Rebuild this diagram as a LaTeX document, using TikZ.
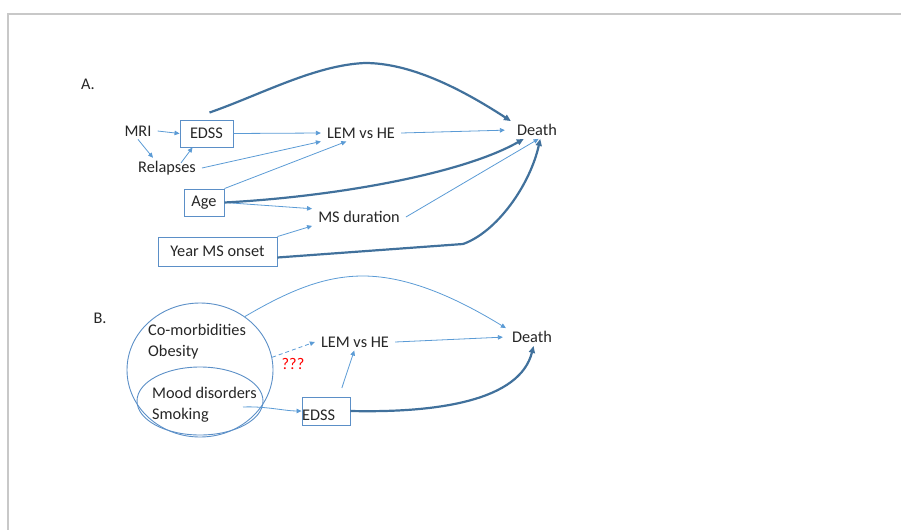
\documentclass[tikz,border=0pt]{standalone}
\usepackage{fontspec}
\setmainfont{Carlito}
\usetikzlibrary{arrows.meta, shapes.geometric}

\definecolor{fineblue}{HTML}{5B9BD5}
\definecolor{heavyblue}{HTML}{41719C}
\definecolor{edgeblue}{HTML}{5B8FC7}
\definecolor{txtgray}{HTML}{262626}
\definecolor{framegray}{HTML}{C8C8C8}

\tikzset{
  txt/.style={text=txtgray, inner xsep=6pt, inner ysep=3pt},
  box/.style={draw=edgeblue, line width=0.9pt, text=txtgray, inner sep=0pt},
  blob/.style={ellipse, draw=edgeblue, line width=0.9pt, inner sep=0pt},
  farrow/.style={fineblue, line width=0.8pt, -{Triangle[length=5pt, width=4.5pt]}},
  harrow/.style={heavyblue, line width=2.2pt, -{Triangle[length=7pt, width=6pt]}},
}

\begin{document}
\begin{tikzpicture}[x=1pt, y=-1pt, font=\fontsize{16.3}{21}\selectfont]
    \useasboundingbox (0, 0) rectangle (901, 530);
    \draw [framegray, line width=2pt] (901, 14) -- (8, 14) -- (8, 530);
    % A.
    \node [txt] (labA)  at (88, 84)  {A.};
    \node [txt] (mri)   at (138, 131) {MRI};
    \node [box, minimum width=53pt, minimum height=27pt] (edssA) at (206.5, 133.5) {EDSS};
    \node [txt] (rel)   at (167, 168) {Relapses};
    \node [txt] (lemA)  at (361, 133) {LEM vs HE};
    \node [txt] (deathA) at (537, 130) {Death};
    \node [box, minimum width=40pt, minimum height=27pt] (age) at (204, 202.5) {Age};
    \node [txt] (msdur) at (359, 217) {MS duration};
    \node [box, minimum width=119pt, minimum height=29pt] (year) at (217.5, 251.5) {Year MS onset};
    \draw [farrow] (mri.east) -- (edssA.west);
    \draw [farrow] (mri.south) -- (rel.144);
    \draw [farrow] ([xshift=14pt, yshift=-5pt]rel.north) -- (edssA.-135);
    \draw [farrow] (edssA.east) -- (lemA.west);
    \draw [farrow] (rel.east) -- (lemA.south west);
    \draw [farrow] (age.north east) -- (lemA.-150);
    \draw [farrow] (age.east) -- (msdur.170);
    \draw [farrow] (year.north east) -- (msdur.south west);
    \draw [farrow] (msdur.east) -- (deathA.-80);
    \draw [farrow, shorten >=6pt] (lemA.east) -- (deathA.west);
    \draw [harrow] (age.east) .. controls (330, 197) and (460, 175) .. (deathA.-146);
    \draw [harrow] ([yshift=-6pt]year.east) -- (463, 244)
        .. controls (497, 232) and (530, 185) .. (deathA.-70);
    \draw [harrow] ([xshift=3pt, yshift=7pt]edssA.north)
        .. controls (260, 95) and (315, 65) .. (365, 63)
        .. controls (410, 63) and (460, 88) .. (deathA.north west);
    % B.
    \node [txt] (labB)  at (100, 318) {B.};
    \node [blob, minimum width=146pt, minimum height=134pt] (bigc) at (200, 370) {};
    \node [blob, minimum width=126pt, minimum height=68pt] (smalle) at (200, 401) {};
    \node [txt, anchor=west, align=left] (como) at (142, 342) {Co-morbidities\\Obesity};
    \node [txt, anchor=west, align=left] (mood) at (146, 405) {Mood disorders\\Smoking};
    \node [txt, text=red] (qq) at (293, 364) {???};
    \node [txt] (lemB)   at (355, 342) {LEM vs HE};
    \node [txt] (deathB) at (532, 337) {Death};
    \node [box, minimum width=48pt, minimum height=28pt] (edssB) at (326, 411) {};
    \node [txt, anchor=west, inner sep=0pt] (edssBt) at (302, 415) {EDSS};
    \coordinate (smk) at (243, 407);
    \draw [farrow] (smk) .. controls (265, 406) and (285, 411) .. (edssB.west);
    \draw [farrow, dash pattern=on 4pt off 3pt] (bigc.10) -- (lemB.west);
    \draw [farrow, shorten <=9pt] ([xshift=13pt]edssB.north) -- (lemB.-95);
    \draw [farrow, shorten >=3pt] (lemB.east) -- (deathB.west);
    \draw [harrow] (edssB.east) .. controls (440, 413) and (520, 400) .. (deathB.-80);
    \draw [farrow] (bigc.50) .. controls (290, 290) and (325, 276) .. (363, 276)
        .. controls (410, 276) and (460, 300) .. (deathB.north west);
  \end{tikzpicture}
\end{document}
